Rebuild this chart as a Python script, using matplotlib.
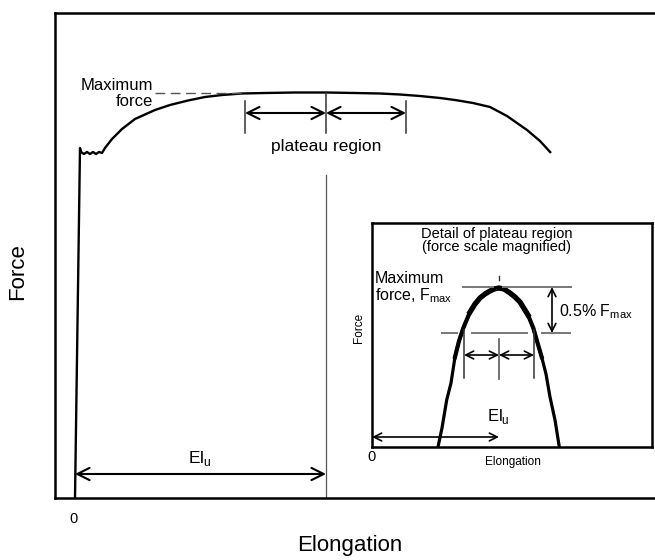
import matplotlib
matplotlib.use("Agg")
import matplotlib.pyplot as plt

plt.rcParams['font.family'] = ['Liberation Sans', 'DejaVu Sans']

# ---------------- data: main chart (elongation, force) ----------------
main_x = [0.0, 0.5, 0.6, 0.9, 1.2, 1.5, 1.8, 2.1, 2.4, 2.7, 3.0, 3.7, 4.7, 6.0, 8.0, 9.5,
          11.3, 13.0, 14.7, 16.7, 19.0, 22.0, 25.1, 28.0, 30.5, 32.5, 34.5, 36.5, 38.0,
          39.8, 41.5, 43.2, 45.2, 46.5, 47.6]
main_y = [0.0, 35.0, 34.6, 34.4, 34.6, 34.4, 34.6, 34.4, 34.6, 34.5, 35.0, 35.9, 36.9, 37.9,
          38.8, 39.3, 39.75, 40.1, 40.3, 40.45, 40.5, 40.55, 40.55, 40.5, 40.45, 40.35, 40.2,
          40.0, 39.8, 39.5, 39.1, 38.2, 36.8, 35.7, 34.5]
max_force = 40.5
max_dash_x = [8.0, 16.7]
plateau_left, plateau_mid, plateau_right = 17.0, 25.1, 33.1
el_u_main = 25.1

# ---------------- data: inset (plateau detail) ----------------
ins_x = [6.6, 7.0, 7.47, 7.9, 8.3, 8.7, 9.13, 9.8, 10.3, 10.8, 11.3, 11.8, 12.2, 12.7, 13.2,
         13.8, 14.3, 14.8, 15.6, 16.13, 16.5, 16.97, 17.4, 17.8, 18.3, 18.73]
ins_y = [0.0, 1.9, 4.7, 6.4, 9.0, 10.6, 11.9, 13.5, 14.3, 14.9, 15.3, 15.6, 15.8, 15.9, 15.8,
         15.4, 15.0, 14.5, 13.2, 11.9, 10.6, 9.0, 7.3, 5.0, 2.7, 0.0]
ins_fmax = 16.0
ins_lower = 11.4
ins_upper_segs = [(9.1, 12.1), (13.1, 19.9)]
ins_lower_segs = [(7.0, 8.5), (10.0, 15.5), (17.0, 19.8)]
ins_peak_x = 12.7
ins_band_left, ins_band_right = 9.2, 16.2

fig = plt.figure(figsize=(6.55, 5.6), dpi=100)
W, H = 655.0, 560.0

# ---------------- main axes ----------------
ax = fig.add_axes([55 / W, (H - 498) / H, (660 - 55) / W, (498 - 13) / H])
ax.set_xlim(-2, 58.5)
ax.set_ylim(0, 48.5)
ax.set_xticks([])
ax.set_yticks([])
for s in ['left', 'top', 'bottom']:
    ax.spines[s].set_linewidth(1.8)
ax.spines['right'].set_visible(False)

ax.plot(main_x, main_y, color='black', lw=1.7, solid_capstyle='butt', solid_joinstyle='round')
ax.plot(max_dash_x, [max_force, max_force], color='#555555', lw=1.0,
        linestyle=(0, (7, 4)))
ax.text(7.8, 41.2, 'Maximum', ha='right', va='center', fontsize=12)
ax.text(7.8, 39.6, 'force', ha='right', va='center', fontsize=12)

# plateau region markers
ax.plot([plateau_left, plateau_left], [36.5, 39.7], color='#333333', lw=1.1)
ax.plot([plateau_right, plateau_right], [36.5, 39.7], color='#333333', lw=1.1)
ax.plot([plateau_mid, plateau_mid], [36.5, max_force], color='#333333', lw=1.1)
arrow_kw = dict(arrowstyle='<->', lw=1.5, color='black', shrinkA=0, shrinkB=0,
                mutation_scale=22)
ax.annotate('', xy=(plateau_left, 38.5), xytext=(plateau_mid, 38.5), arrowprops=arrow_kw)
ax.annotate('', xy=(plateau_mid, 38.5), xytext=(plateau_right, 38.5), arrowprops=arrow_kw)
ax.text(plateau_mid, 35.1, 'plateau region', ha='center', va='center', fontsize=12.5)

# El_u
ax.plot([el_u_main, el_u_main], [0, 32.3], color='#555555', lw=0.9)
ax.annotate('', xy=(0, 2.4), xytext=(el_u_main, 2.4), arrowprops=arrow_kw)
ax.text(12.5, 4.0, r'El$_{\mathregular{u}}$', ha='center', va='center', fontsize=12.5)

fig.text(74 / W, 1 - 519 / H, '0', ha='center', va='center', fontsize=10.5)
fig.text(18 / W, 1 - 272 / H, 'Force', ha='center', va='center', rotation=90, fontsize=16)
fig.text(350 / W, 1 - 545 / H, 'Elongation', ha='center', va='center', fontsize=16)

# ---------------- inset axes ----------------
ai = fig.add_axes([372 / W, (H - 447) / H, 280 / W, 224 / H])
ai.set_xlim(0, 28)
ai.set_ylim(0, 22.4)
ai.set_xticks([])
ai.set_yticks([])
for s in ai.spines.values():
    s.set_linewidth(1.8)

ai.plot(ins_x, ins_y, color='black', lw=2.3, solid_joinstyle='round')
ai.plot(ins_x[4:-4], ins_y[4:-4], color='black', lw=3.0, solid_joinstyle='round')
ai.plot(ins_x[7:-7], ins_y[7:-7], color='black', lw=3.8, solid_joinstyle='round')

for a, b in ins_upper_segs:
    ai.plot([a, b], [ins_fmax, ins_fmax], color='#777777', lw=1.4)
for a, b in ins_lower_segs:
    ai.plot([a, b], [ins_lower, ins_lower], color='#777777', lw=1.4)
ai.plot([ins_peak_x, ins_peak_x], [16.7, 17.1], color='#333333', lw=1.0)

ai_arrow = dict(arrowstyle='<->', lw=1.2, color='black', shrinkA=0, shrinkB=0,
                mutation_scale=14)
ai.annotate('', xy=(18.0, ins_fmax), xytext=(18.0, ins_lower), arrowprops=ai_arrow)
ai.text(18.7, 13.5, r'0.5% F$_{\mathregular{max}}$', ha='left', va='center', fontsize=11.5)

ai.plot([ins_band_left, ins_band_left], [6.9, 11.7], color='#333333', lw=1.1)
ai.plot([ins_band_right, ins_band_right], [6.9, 11.7], color='#333333', lw=1.1)
ai.plot([ins_peak_x, ins_peak_x], [6.8, 10.8], color='#666666', lw=1.3)
ai.annotate('', xy=(ins_band_left, 9.2), xytext=(ins_peak_x, 9.2), arrowprops=ai_arrow)
ai.annotate('', xy=(ins_peak_x, 9.2), xytext=(ins_band_right, 9.2), arrowprops=ai_arrow)

ai.text(0.3, 16.8, 'Maximum', ha='left', va='center', fontsize=11.5)
ai.text(0.3, 15.1, r'force, F$_{\mathregular{max}}$', ha='left', va='center', fontsize=11.5)

ai.annotate('', xy=(0, 1.0), xytext=(ins_peak_x, 1.0), arrowprops=ai_arrow)
ai.text(12.6, 3.0, r'El$_{\mathregular{u}}$', ha='center', va='center', fontsize=12)

ai.text(12.5, 21.3, 'Detail of plateau region', ha='center', va='center', fontsize=10.5)
ai.text(12.5, 20.0, '(force scale magnified)', ha='center', va='center', fontsize=10.5)

fig.text(372 / W, 1 - 457 / H, '0', ha='center', va='center', fontsize=10.5)
fig.text(513 / W, 1 - 462 / H, 'Elongation', ha='center', va='center', fontsize=8.5)
fig.text(359 / W, 1 - 328 / H, 'Force', ha='center', va='center', rotation=90, fontsize=8.5)

fig.savefig('out.png', dpi=100)
